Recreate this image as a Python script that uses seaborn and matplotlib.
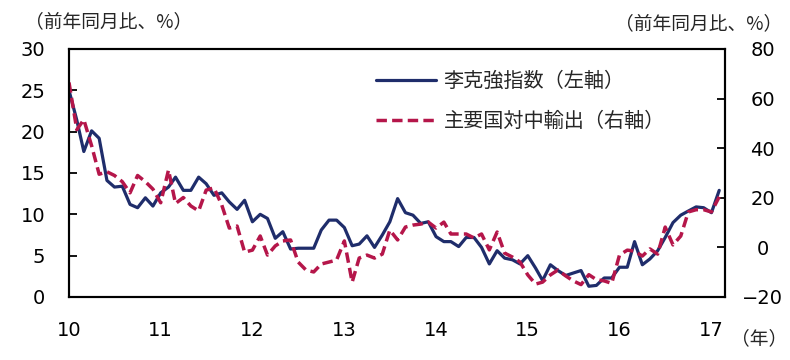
import pandas as pd
import numpy as np
import matplotlib
matplotlib.use('Agg')
import matplotlib.pyplot as plt
import seaborn as sns

# 月次データ 2010年1月～2017年2月
months = pd.date_range('2010-01-01', periods=86, freq='MS')

# 李克強指数（左軸、前年同月比%）
li_index = [25.0, 21.4, 17.6, 20.1, 19.2, 14.1, 13.3, 13.4, 11.2, 10.8, 12.0, 11.0,
            12.6, 13.3, 14.5, 12.9, 12.9, 14.5, 13.7, 12.3, 12.6, 11.5, 10.6, 11.7,
            9.1, 10.0, 9.5, 7.1, 7.9, 5.8, 5.9, 5.9, 5.9, 8.1, 9.3, 9.3,
            8.4, 6.2, 6.4, 7.4, 6.0, 7.5, 9.1, 11.9, 10.2, 9.9, 8.9, 9.1,
            7.3, 6.7, 6.7, 6.1, 7.2, 7.2, 6.0, 4.0, 5.6, 4.7, 4.5, 4.0,
            5.0, 3.5, 2.0, 3.9, 3.2, 2.6, 2.9, 3.2, 1.3, 1.4, 2.3, 2.3,
            3.6, 3.6, 6.7, 3.9, 4.6, 5.6, 7.2, 9.0, 9.9, 10.4, 10.9, 10.8,
            10.2, 12.9]

# 主要国対中輸出（右軸、前年同月比%）
exports = [66.5, 47.5, 51.5, 41.0, 29.5, 30.5, 29.0, 26.5, 22.0, 29.0, 26.5, 23.5,
           18.0, 31.2, 17.7, 20.1, 16.7, 14.7, 23.1, 24.0, 17.1, 7.8, 8.6, -1.9,
           -1.1, 4.6, -3.1, 0.6, 2.6, 3.0, -5.9, -9.1, -9.9, -6.7, -5.9, -5.1,
           2.6, -14.0, -4.3, -3.1, -4.3, -2.7, 7.0, 3.0, 8.2, 9.0, 9.4, 10.2,
           7.8, 10.2, 5.4, 5.4, 5.4, 3.8, 5.4, -1.0, 6.2, -2.3, -3.9, -5.9,
           -11.1, -14.8, -14.0, -11.1, -9.1, -11.5, -13.5, -15.0, -11.0, -13.0, -13.5, -14.5,
           -3.1, -1.1, -1.5, -3.5, -0.6, -2.7, 8.2, 1.0, 4.6, 14.3, 15.2, 15.2,
           14.3, 20.4]

labels = ['李克強指数（左軸）', '主要国対中輸出（右軸）']
year_labels = ['10', '11', '12', '13', '14', '15', '16', '17']

df = pd.DataFrame({'date': months, 'li': li_index, 'exp': exports})

sns.set_style('white')
plt.rcParams['font.family'] = ['DejaVu Sans', 'Noto Sans CJK JP']
cjk = ['Noto Sans CJK JP', 'DejaVu Sans']

navy = '#1f2d6b'
crimson = '#b5164a'

fig = plt.figure(figsize=(7.9, 3.6), dpi=100)
ax = fig.add_axes([69/790, 1 - 297/360, (725 - 69)/790, (297 - 49)/360])
ax2 = ax.twinx()

sns.lineplot(data=df, x='date', y='li', ax=ax, color=navy, lw=2.3)
sns.lineplot(data=df, x='date', y='exp', ax=ax2, color=crimson, lw=2.5,
             linestyle=(0, (3.0, 1.5)))

ax.set_xlim(pd.Timestamp('2010-01-01'), pd.Timestamp('2017-02-24'))
ax.set_ylim(0, 30)
ax2.set_ylim(-20, 80)
ax.set_yticks(np.arange(0, 31, 5))
ax2.set_yticks(np.arange(-20, 81, 20))
ax.set_xticks(pd.date_range('2010-01-01', '2017-01-01', freq='YS'))
ax.set_xticklabels(year_labels)
ax.set_xlabel('')
ax.set_ylabel('')
ax2.set_ylabel('')

for a in (ax, ax2):
    for s in a.spines.values():
        s.set_color('black')
        s.set_linewidth(1.5)
ax.tick_params(axis='y', direction='in', length=6, width=1.3, labelsize=14, pad=17,
               colors='black')
ax.tick_params(axis='x', direction='in', length=6, width=1.3, labelsize=14, pad=17,
               colors='black')
ax2.tick_params(axis='y', direction='in', length=6, width=1.3, labelsize=14, pad=27,
                colors='black')
for t in ax2.get_yticklabels():
    t.set_horizontalalignment('center')

fig.text(25/790, 1 - 22/360, '（前年同月比、%）', family=cjk, fontsize=13.5,
         va='center', ha='left')
fig.text(782/790, 1 - 24/360, '（前年同月比、%）', family=cjk, fontsize=13.5,
         va='center', ha='right')
fig.text(759/790, 1 - 339/360, '（年）', family=cjk, fontsize=13.5,
         va='center', ha='center')

leg = ax.legend(handles=[ax.lines[0], ax2.lines[0]], labels=labels,
                loc='upper left', bbox_to_anchor=(376/790, 1 - 71/360),
                bbox_transform=fig.transFigure, frameon=False, borderpad=0,
                borderaxespad=0, handlelength=3.0, handletextpad=0.35,
                labelspacing=0.95, prop={'family': cjk, 'size': 14.5})

fig.savefig('out.png', dpi=100)
